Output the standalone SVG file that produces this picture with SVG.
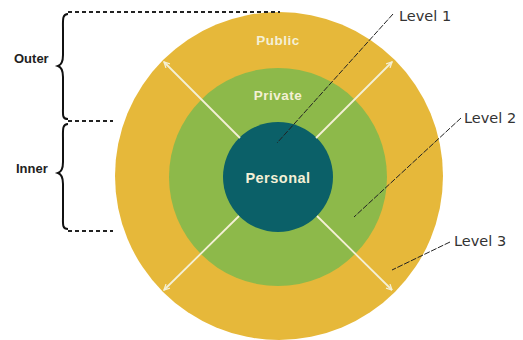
<svg xmlns="http://www.w3.org/2000/svg" width="523" height="340" viewBox="0 0 523 340">
<style>
.ring-label{font-family:"Liberation Sans",Arial,sans-serif;font-weight:bold;fill:#f4f0d6;text-anchor:middle;letter-spacing:0.5px}
.side{font-family:"Liberation Sans",Arial,sans-serif;font-weight:bold;font-size:13px;fill:#222}
.lvl{font-family:"DejaVu Sans",Verdana,sans-serif;font-size:14.5px;fill:#333}
.dash{stroke:#222;stroke-width:2;stroke-dasharray:4 3;fill:none}
.lead{stroke:#222;stroke-width:1;stroke-dasharray:6 1.5;fill:none}
.brace{stroke:#111;stroke-width:2;fill:none}
.arrow{stroke:#f4f0d6;stroke-width:1.8;fill:none;marker-end:url(#ah)}
</style>
<defs>
<marker id="ah" viewBox="0 0 10 10" refX="9" refY="5" markerWidth="7" markerHeight="7" orient="auto" markerUnits="userSpaceOnUse">
<path d="M1 1 L9 5 L1 9" fill="none" stroke="#f4f0d6" stroke-width="1.8"/>
</marker>
</defs>
<rect width="523" height="340" fill="#ffffff"/>
<g id="level3">
<circle cx="279" cy="176" r="164" fill="#e6b83a"/>
<text class="ring-label" x="278" y="45" font-size="13.5">Public</text>
</g>
<g id="level2">
<circle cx="278" cy="177" r="109" fill="#8db94a"/>
<text class="ring-label" x="278" y="100" font-size="13.5">Private</text>
</g>
<g id="level1">
<circle cx="278" cy="177" r="55" fill="#0b6068"/>
<text class="ring-label" x="278" y="183" font-size="14.5">Personal</text>
</g>
<g id="connectors">
<line class="arrow" x1="240" y1="138" x2="164" y2="62"/>
<line class="arrow" x1="316" y1="138" x2="392" y2="62"/>
<line class="arrow" x1="239" y1="216" x2="164" y2="290"/>
<line class="arrow" x1="317" y1="216" x2="392" y2="290"/>
<line class="dash" x1="68" y1="12" x2="280" y2="12"/>
<line class="dash" x1="68" y1="121" x2="113" y2="121"/>
<line class="dash" x1="68" y1="231" x2="113" y2="231"/>
<path class="brace" d="M68 14 C62 14 63 20 63 30 L63 55 C63 62 61 65 58 66 C61 67 63 70 63 77 L63 107 C63 115 62 119 68 119"/>
<path class="brace" d="M68 124 C62 124 63 130 63 140 L63 162 C63 169 61 172 58 173 C61 174 63 177 63 184 L63 216 C63 224 62 229 68 229"/>
<line class="lead" x1="393" y1="14" x2="277" y2="143"/>
<line class="lead" x1="461" y1="118" x2="354" y2="217"/>
<line class="lead" x1="450" y1="242" x2="392" y2="270"/>
</g>
<g id="labels">
<text class="side" x="14" y="63">Outer</text>
<text class="side" x="16" y="173">Inner</text>
<text class="lvl" x="399" y="21">Level 1</text>
<text class="lvl" x="464" y="123">Level 2</text>
<text class="lvl" x="454" y="246">Level 3</text>
</g>
</svg>
